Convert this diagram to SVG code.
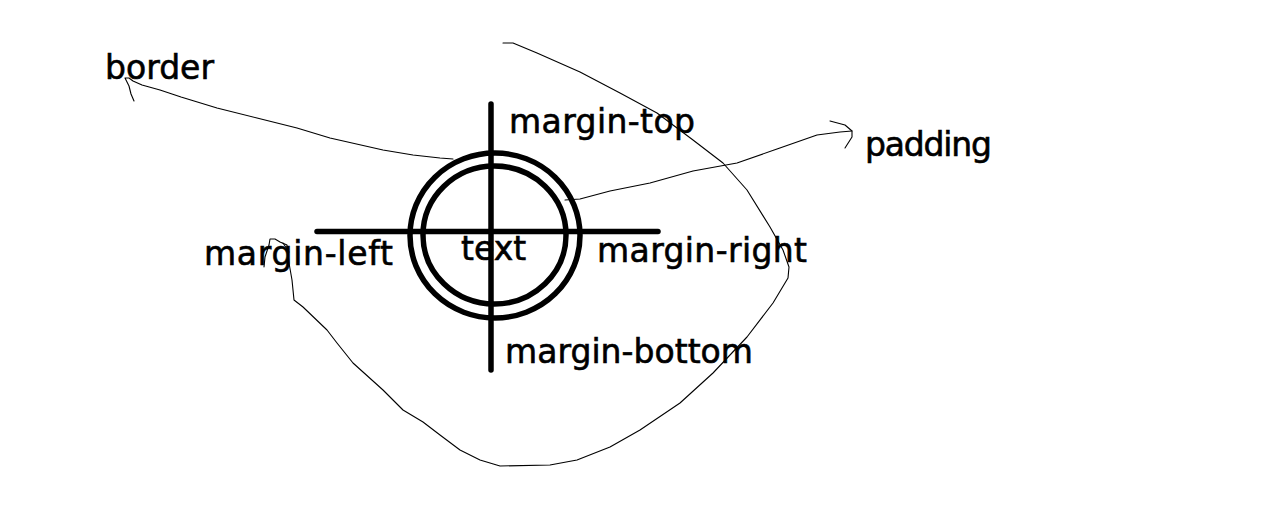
<svg xmlns="http://www.w3.org/2000/svg" width="1280" height="517" viewBox="0 0 1280 517">
<style>
.lbl{font-family:"DejaVu Sans","Liberation Sans",sans-serif;font-size:33px;fill:#000;stroke:#000;stroke-width:0.6;}
.thick{fill:none;stroke:#000;stroke-width:5.5;stroke-linecap:round;}
.hand{fill:none;stroke:#000;stroke-width:1.1;stroke-linejoin:round;stroke-linecap:round;}
</style>
<rect width="1280" height="517" fill="#fff"/>
<g id="box">
  <ellipse class="thick" cx="495" cy="235.5" rx="85" ry="82.5"/>
  <ellipse class="thick" cx="494.5" cy="235" rx="71.5" ry="69"/>
  <line class="thick" x1="491" y1="104" x2="491" y2="370" stroke-width="4.5"/>
  <line class="thick" x1="317" y1="231.5" x2="658" y2="231.5" stroke-width="4.5"/>
</g>
<g id="text-node"><text class="lbl" x="461" y="260">text</text></g>
<g id="border-label"><text class="lbl" x="105" y="79" textLength="109">border</text></g>
<g id="margin-top-label"><text class="lbl" x="509" y="133" textLength="186">margin-top</text></g>
<g id="padding-label"><text class="lbl" x="865" y="156" textLength="127">padding</text></g>
<g id="margin-left-label"><text class="lbl" x="204" y="265" textLength="189">margin-left</text></g>
<g id="margin-right-label"><text class="lbl" x="597" y="262" textLength="210">margin-right</text></g>
<g id="margin-bottom-label"><text class="lbl" x="505" y="363" textLength="248">margin-bottom</text></g>
<g id="connectors">
  <path class="hand" d="M134,101 L131,94 L129,86 L125,78 L129,78 L133,81 L142,85 L160,90 L181,97 L217,108 L257,118 L297,128 L330,138 L383,150 L413,155 L440,158 L453,159"/>
  <path class="hand" d="M565,200 L580,199 L610,191 L650,183 L693,171 L737,163 L777,149 L817,135 L840,132 L852,131"/>
  <path class="hand" d="M830,121 L845,125 L852,131 L852,137 L845,148"/>
  <path class="hand" d="M503,43 L513,43 L537,53 L580,72 L620,93 L657,113 L693,140 L723,163 L747,190 L770,227 L783,250 L789,267 L788,278 L773,303 L747,337 L713,373 L680,403 L640,430 L610,447 L577,460 L550,465 L500,466 L480,460 L460,450 L440,435 L423,422 L403,410 L383,390 L363,372 L353,363 L337,343 L327,330 L303,307 L294,300 L292,280 L289,263 L287,245 L280,242 L275,239 L270,239 L269,245 L265,257 L264,267"/>
  <path class="hand" d="M283,243 L289,252"/>
</g>
</svg>
